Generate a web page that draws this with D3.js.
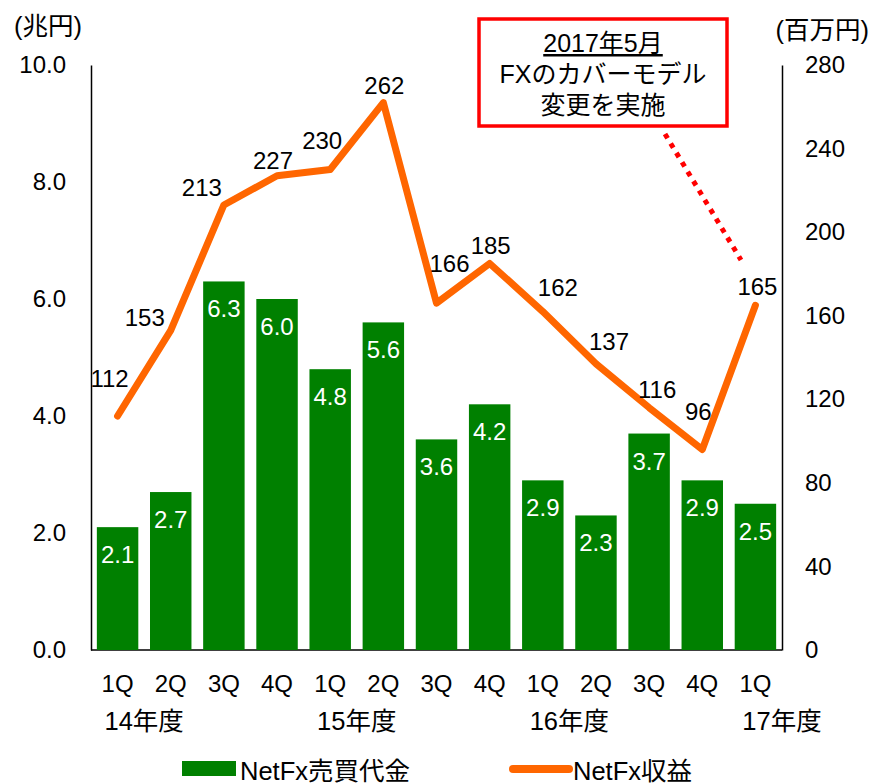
<!DOCTYPE html>
<html>
<head>
<meta charset="utf-8">
<script src="https://cdn.jsdelivr.net/npm/d3@7"></script>
<style>
  body { margin: 0; background: #fff; }
  text { font-family: "Liberation Sans", Arial, "Noto Sans CJK JP", sans-serif; }
</style>
</head>
<body>
<svg id="chart" width="871" height="784"></svg>
<script>
// Categories
const quarters = ["1Q", "2Q", "3Q", "4Q", "1Q", "2Q", "3Q", "4Q", "1Q", "2Q", "3Q", "4Q", "1Q"];
const years = ["14年度", "15年度", "16年度", "17年度"];
const yearStart = [0, 4, 8, 12];

// Series values
const volume = [2.1, 2.7, 6.3, 6.0, 4.8, 5.6, 3.6, 4.2, 2.9, 2.3, 3.7, 2.9, 2.5];   // 兆円
const revenue = [112, 153, 213, 227, 230, 262, 166, 185, 162, 137, 116, 96, 165];   // 百万円

// Tick labels
const leftTicks = [0, 2, 4, 6, 8, 10];
const rightTicks = [0, 40, 80, 120, 160, 200, 240, 280];

const green = "#008000";
const orange = "#FF6600";
const fontSize = 24;
const cjkSize = 25.5;

const svg = d3.select("#chart");

const plotLeft = 91, plotRight = 782, plotTop = 65, plotBottom = 650;

// Scales
const x = d3.scaleBand()
  .domain(d3.range(quarters.length))
  .range([plotLeft, plotRight])
  .paddingInner(0.22)
  .paddingOuter(0.11);

const yL = d3.scaleLinear().domain([0, 10]).range([plotBottom, plotTop]);
const yR = d3.scaleLinear().domain([0, 280]).range([plotBottom, plotTop]);

// Axes
svg.append("g")
  .attr("transform", "translate(" + plotLeft + ",0)")
  .call(d3.axisLeft(yL).tickValues(leftTicks).tickFormat(d3.format(".1f")).tickSize(0).tickPadding(25))
  .call(g => g.select(".domain").attr("stroke", "#000").attr("stroke-width", 1.5))
  .call(g => g.selectAll("text").attr("font-size", fontSize).attr("fill", "#000")
    .style("font-family", "'Liberation Sans', Arial, sans-serif"));

svg.append("g")
  .attr("transform", "translate(" + plotRight + ",0)")
  .call(d3.axisRight(yR).tickValues(rightTicks).tickSize(0).tickPadding(23))
  .call(g => g.select(".domain").attr("stroke", "#000").attr("stroke-width", 1.5))
  .call(g => g.selectAll("text").attr("font-size", fontSize).attr("fill", "#000")
    .style("font-family", "'Liberation Sans', Arial, sans-serif"));

svg.append("line")
  .attr("x1", plotLeft).attr("x2", plotRight)
  .attr("y1", plotBottom).attr("y2", plotBottom)
  .attr("stroke", "#000").attr("stroke-width", 1.5);

// Unit labels
svg.append("text").attr("x", 14).attr("y", 35)
  .attr("font-size", cjkSize).text("(兆円)");
svg.append("text").attr("x", 869).attr("y", 39).attr("text-anchor", "end")
  .attr("font-size", cjkSize).text("(百万円)");

// Bars
svg.append("g")
  .selectAll("rect")
  .data(volume).enter()
  .append("rect")
  .attr("x", (d, i) => x(i))
  .attr("y", d => yL(d))
  .attr("width", x.bandwidth())
  .attr("height", d => plotBottom - yL(d))
  .attr("fill", green);

svg.append("g")
  .selectAll("text")
  .data(volume).enter()
  .append("text")
  .attr("x", (d, i) => x(i) + x.bandwidth() / 2)
  .attr("y", d => yL(d) + 36)
  .attr("text-anchor", "middle")
  .attr("font-size", fontSize)
  .attr("fill", "#fff")
  .text(d => d.toFixed(1));

// Line
const cx = i => x(i) + x.bandwidth() / 2;

svg.append("path")
  .datum(revenue)
  .attr("fill", "none")
  .attr("stroke", orange)
  .attr("stroke-width", 7)
  .attr("stroke-linejoin", "round")
  .attr("stroke-linecap", "round")
  .attr("d", d3.line().x((d, i) => cx(i)).y(d => yR(d)));

// label nudges (dx, dy) from each point
const nudge = [[-8, -29], [-26, -4], [-22, -9], [-4, -7], [-8, -20], [1, -9],
  [13, -31], [1, -9], [15, -16], [13, -14], [8, -10], [-4, -29], [2, -10]];

svg.append("g")
  .selectAll("text")
  .data(revenue).enter()
  .append("text")
  .attr("x", (d, i) => cx(i) + nudge[i][0])
  .attr("y", (d, i) => yR(d) + nudge[i][1])
  .attr("text-anchor", "middle")
  .attr("font-size", fontSize)
  .attr("fill", "#000")
  .text(d => d);

// X labels
svg.append("g")
  .selectAll("text")
  .data(quarters).enter()
  .append("text")
  .attr("x", (d, i) => cx(i))
  .attr("y", 692)
  .attr("text-anchor", "middle")
  .attr("font-size", fontSize)
  .text(d => d);

svg.append("g")
  .selectAll("text")
  .data(years).enter()
  .append("text")
  .attr("x", (d, i) => cx(yearStart[i]) + x.step() / 2)
  .attr("y", 730)
  .attr("text-anchor", "middle")
  .attr("font-size", cjkSize)
  .text(d => d);

// Annotation
svg.append("rect")
  .attr("x", 479).attr("y", 19)
  .attr("width", 248).attr("height", 107)
  .attr("fill", "#fff").attr("stroke", "#FF0000").attr("stroke-width", 3.5);

const note = ["2017年5月", "FXのカバーモデル", "変更を実施"];
svg.append("g")
  .selectAll("text")
  .data(note).enter()
  .append("text")
  .attr("x", 603)
  .attr("y", (d, i) => 52 + i * 31)
  .attr("text-anchor", "middle")
  .attr("font-size", 25)
  .style("text-decoration", (d, i) => i === 0 ? "underline" : null)
  .text(d => d);

svg.append("line")
  .attr("x1", 665).attr("y1", 134)
  .attr("x2", 741).attr("y2", 260)
  .attr("stroke", "#FF0000")
  .attr("stroke-width", 5)
  .attr("stroke-dasharray", "5,6");

// Legend
svg.append("rect")
  .attr("x", 182).attr("y", 761)
  .attr("width", 54).attr("height", 15)
  .attr("fill", green);
svg.append("text").attr("x", 240).attr("y", 780)
  .attr("font-size", cjkSize).text("NetFx売買代金");

svg.append("line")
  .attr("x1", 513).attr("x2", 569)
  .attr("y1", 769).attr("y2", 769)
  .attr("stroke", orange).attr("stroke-width", 8)
  .attr("stroke-linecap", "round");
svg.append("text").attr("x", 573).attr("y", 780)
  .attr("font-size", cjkSize).text("NetFx収益");
</script>
</body>
</html>
